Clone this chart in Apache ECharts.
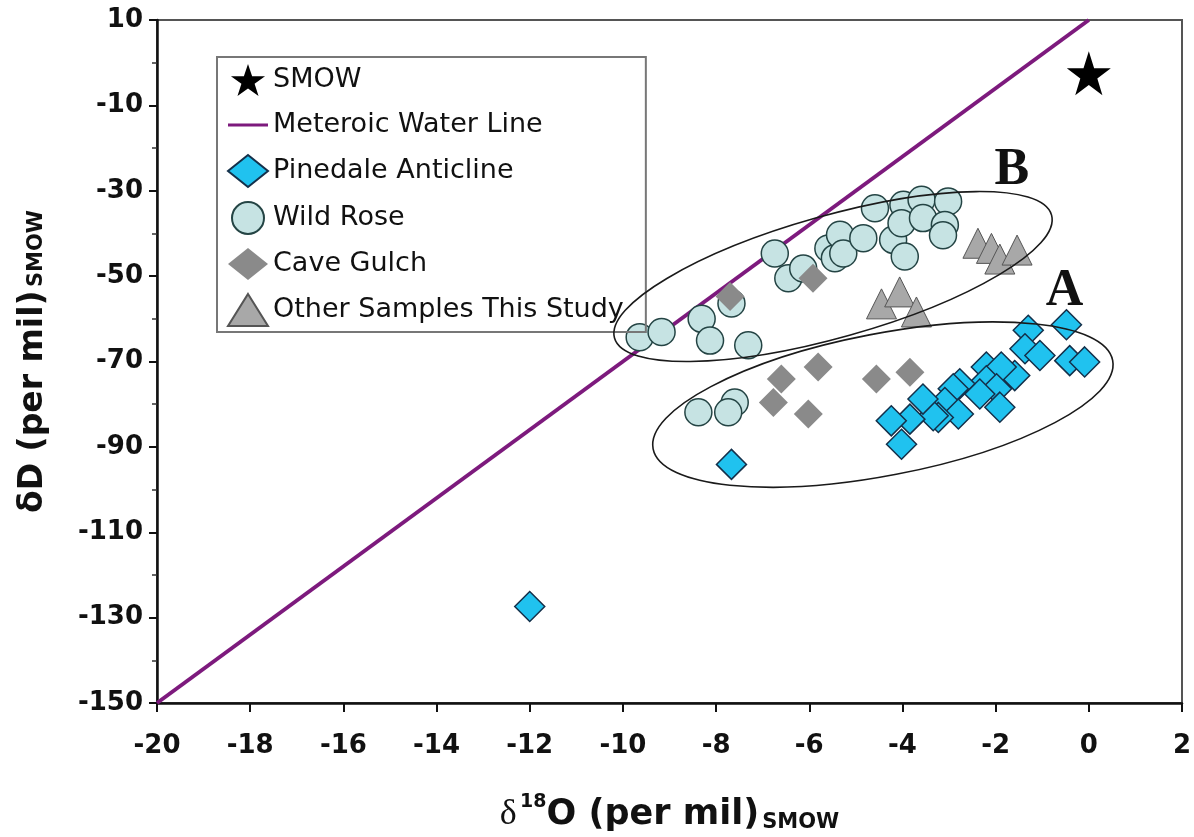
<!DOCTYPE html>
<html>
<head>
<meta charset="utf-8">
<title>dD vs d18O</title>
<script src="https://cdn.jsdelivr.net/npm/echarts@6/dist/echarts.min.js"></script>
<style>
  html, body { margin: 0; padding: 0; background: #fff; }
  #chart { width: 1194px; height: 837px; }
</style>
</head>
<body>
<div id="chart"></div>
<script>
// 数据: [δ18O, δD]
const smow = [[0, -2.5]];
const meteoricLine = [[-20, -150], [0, 10]];

const pinedale = [
  [-12.0, -127.4], [-7.67, -94.1],
  [-1.30, -62.7], [-0.48, -61.4], [-1.37, -67.0], [-1.05, -68.6],
  [-0.41, -69.8], [-0.09, -70.1], [-1.59, -73.3], [-2.20, -71.3],
  [-1.88, -71.3], [-2.20, -74.5], [-1.98, -76.4], [-2.34, -77.6],
  [-1.91, -80.7], [-2.77, -75.2], [-2.91, -76.4], [-3.09, -79.6],
  [-2.80, -82.3], [-3.23, -83.1], [-3.34, -82.7], [-3.56, -78.8],
  [-3.84, -83.5], [-4.24, -83.9], [-4.02, -89.4]
];

const wildRose = [
  [-9.64, -64.3], [-9.17, -63.1], [-8.31, -60.0], [-8.13, -65.1],
  [-7.31, -66.2], [-7.67, -56.4], [-6.74, -44.7], [-6.45, -50.5],
  [-6.13, -48.2], [-5.59, -43.5], [-5.45, -45.8], [-5.34, -40.3],
  [-5.27, -44.7], [-4.84, -41.1], [-4.59, -34.1], [-4.20, -41.5],
  [-3.98, -33.3], [-4.02, -37.6], [-3.95, -45.4], [-3.59, -32.1],
  [-3.56, -36.4], [-3.02, -32.5], [-3.09, -38.0], [-3.13, -40.4],
  [-8.38, -81.9], [-7.60, -79.6], [-7.74, -81.9]
];

const caveGulch = [
  [-7.70, -54.8], [-5.92, -50.5], [-6.60, -74.1], [-5.81, -71.3],
  [-6.77, -79.6], [-6.02, -82.3], [-4.56, -74.1], [-3.84, -72.5]
];

const otherSamples = [
  [-4.45, -56.5], [-4.06, -53.7], [-3.70, -58.4],
  [-2.38, -42.3], [-2.09, -43.5], [-1.91, -46.0], [-1.54, -43.9]
];

// 分组标注 A / B
const groupNames = ['A', 'B'];
const groupLabelPos = [[-0.52, -53.6], [-1.65, -25.3]];
const groupCenters = [[-4.42, -80.1], [-5.49, -50.1]];

// 椭圆大小 (像素) 和旋转角
const ellipseShape = [
  { rx: 234, ry: 71, rot: 10.9 },
  { rx: 227, ry: 61, rot: 15.7 }
];

const starPath = 'path://M50,0 L61.8,35.1 L98.9,35.1 L68.9,56.7 L80.2,91.8 L50,70 L19.8,91.8 L31.1,56.7 L1.1,35.1 L38.2,35.1 Z';
const linePath = 'path://M0,0 L40,0 L40,3 L0,3 Z';
const FONT = 'DejaVu Sans';

const chart = echarts.init(document.getElementById('chart'));

const option = {
  animation: false,
  backgroundColor: '#fff',
  grid: {
    left: 157, right: 12, top: 20, bottom: 134,
    outerBoundsMode: 'none',
    show: true, borderColor: '#555', borderWidth: 2, backgroundColor: 'transparent'
  },
  legend: {
    orient: 'vertical',
    left: 217, top: 57,
    padding: [7, 22, 5, 10],
    itemWidth: 40, itemHeight: 32, itemGap: 13,
    borderColor: '#777', borderWidth: 2,
    backgroundColor: 'transparent',
    textStyle: { fontFamily: FONT, fontSize: 27, color: '#111', lineHeight: 32 },
    data: [
      { name: 'SMOW', icon: starPath },
      { name: 'Meteroic Water Line', icon: linePath },
      { name: 'Pinedale Anticline', icon: 'diamond' },
      { name: 'Wild Rose', icon: 'circle' },
      { name: 'Cave Gulch', icon: 'diamond' },
      { name: 'Other Samples This Study', icon: 'triangle' }
    ]
  },
  xAxis: {
    type: 'value', min: -20, max: 2, interval: 2,
    axisLine: { show: true, onZero: false, lineStyle: { color: '#111', width: 2.5 } },
    axisTick: { show: true, length: 9, lineStyle: { color: '#111', width: 2 } },
    axisLabel: { fontFamily: FONT, fontSize: 26, fontWeight: 'bold', color: '#111', margin: 30 },
    splitLine: { show: false },
    name: '{d|δ} {s|18}{m|O (per mil)}{b|SMOW}',
    nameLocation: 'middle', nameGap: 90,
    nameTextStyle: {
      rich: {
        d: { fontFamily: 'Liberation Serif', fontSize: 36, color: '#111', lineHeight: 44, verticalAlign: 'middle' },
        s: { fontFamily: FONT, fontSize: 19, fontWeight: 'bold', color: '#111', lineHeight: 19, verticalAlign: 'top' },
        m: { fontFamily: FONT, fontSize: 35, fontWeight: 'bold', color: '#111', lineHeight: 44, verticalAlign: 'middle' },
        b: { fontFamily: FONT, fontSize: 21, fontWeight: 'bold', color: '#111', lineHeight: 21, verticalAlign: 'bottom', padding: [0, 0, 4, 3] }
      }
    }
  },
  yAxis: {
    type: 'value', min: -150, max: 10, interval: 20,
    axisLine: { show: true, onZero: false, lineStyle: { color: '#111', width: 2.5 } },
    axisTick: { show: true, length: 8, lineStyle: { color: '#111', width: 2 } },
    minorTick: { show: true, splitNumber: 2, length: 5, lineStyle: { color: '#333', width: 1.5 } },
    axisLabel: { fontFamily: FONT, fontSize: 26, fontWeight: 'bold', color: '#111', margin: 14 },
    splitLine: { show: false },
    name: '{m|δD (per mil)} {b|SMOW}',
    nameLocation: 'middle', nameRotate: 90, nameGap: 104,
    nameTextStyle: {
      rich: {
        m: { fontFamily: FONT, fontSize: 33, fontWeight: 'bold', color: '#111', lineHeight: 40, verticalAlign: 'middle' },
        b: { fontFamily: FONT, fontSize: 21, fontWeight: 'bold', color: '#111', lineHeight: 21, verticalAlign: 'bottom', padding: [0, 0, 6, 0] }
      }
    }
  },
  series: [
    {
      name: 'Meteroic Water Line', type: 'line', data: meteoricLine,
      symbol: 'none', itemStyle: { color: '#7d1a7d' },
      lineStyle: { color: '#7d1a7d', width: 4 }, z: 2
    },
    {
      name: 'Wild Rose', type: 'scatter', data: wildRose,
      symbol: 'circle', symbolSize: 27,
      itemStyle: { color: '#c6e3e3', borderColor: '#244444', borderWidth: 1.5, opacity: 1 }, z: 3
    },
    {
      name: 'Cave Gulch', type: 'scatter', data: caveGulch,
      symbol: 'diamond', symbolSize: 29,
      itemStyle: { color: '#8a8a8a', opacity: 1 }, z: 4
    },
    {
      name: 'Other Samples This Study', type: 'scatter', data: otherSamples,
      symbol: 'triangle', symbolSize: 30,
      itemStyle: { color: '#a8a8a8', borderColor: '#555', borderWidth: 1, opacity: 1 }, z: 5
    },
    {
      name: 'Pinedale Anticline', type: 'scatter', data: pinedale,
      symbol: 'diamond', symbolSize: 30,
      itemStyle: { color: '#20c2ef', borderColor: '#14304a', borderWidth: 1.5, opacity: 1 }, z: 6
    },
    {
      name: 'SMOW', type: 'scatter', data: smow,
      symbol: starPath, symbolSize: 44,
      itemStyle: { color: '#000', opacity: 1 }, z: 7
    },
    {
      // 椭圆 (手绘分组)
      name: 'groups', type: 'custom', data: groupCenters, silent: true, z: 8,
      renderItem: function (params, api) {
        const e = ellipseShape[params.dataIndex];
        const c = api.coord([api.value(0), api.value(1)]);
        return {
          type: 'ellipse',
          x: c[0], y: c[1],
          rotation: e.rot * Math.PI / 180,
          shape: { cx: 0, cy: 0, rx: e.rx, ry: e.ry },
          style: { fill: 'none', stroke: '#1a1a1a', lineWidth: 1.6 }
        };
      }
    },
    {
      name: 'groupLabels', type: 'custom', data: groupLabelPos, silent: true, z: 9,
      renderItem: function (params, api) {
        const c = api.coord([api.value(0), api.value(1)]);
        return {
          type: 'text', x: c[0], y: c[1],
          style: {
            text: groupNames[params.dataIndex],
            font: 'bold 52px "Liberation Serif"',
            fill: '#111', align: 'center', verticalAlign: 'middle'
          }
        };
      }
    }
  ]
};

chart.setOption(option);
</script>
</body>
</html>
